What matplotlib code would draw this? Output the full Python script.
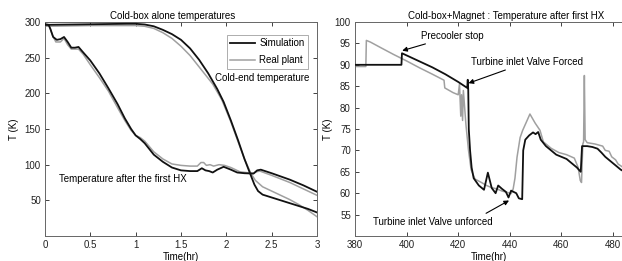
import matplotlib
matplotlib.use("Agg")
import matplotlib.pyplot as plt

plt.rcParams['font.family'] = ['Liberation Sans', 'DejaVu Sans']
plt.rcParams['font.size'] = 7

# ---------------- Left panel data ----------------
t_hx_sim = [0, 0.04, 0.06, 0.09, 0.13, 0.17, 0.21, 0.25, 0.29, 0.33, 0.37, 0.41, 0.5, 0.6, 0.7,
            0.8, 0.88, 0.95, 1.0, 1.05, 1.1, 1.15, 1.2, 1.3, 1.4, 1.5, 1.6, 1.68, 1.73, 1.77,
            1.81, 1.85, 1.9, 1.97, 2.05, 2.12, 2.2, 2.3, 2.34, 2.38, 2.5, 2.7, 2.85, 3.0]
T_hx_sim = [297, 296, 290, 279, 275, 276, 279, 272, 264, 264, 265, 259, 246, 228, 207,
            185, 165, 150, 141, 136, 130, 122, 114, 104, 96, 92, 91, 91, 95, 92,
            91, 89, 93, 97, 93, 89, 88, 87.5, 92, 93, 88, 79, 71, 62]

t_hx_real = [0, 0.05, 0.08, 0.12, 0.17, 0.21, 0.25, 0.29, 0.33, 0.37, 0.42, 0.5, 0.6, 0.7, 0.8,
             0.88, 0.95, 1.0, 1.05, 1.1, 1.2, 1.3, 1.4, 1.5, 1.6, 1.68, 1.72, 1.75, 1.78, 1.82,
             1.86, 1.92, 1.98, 2.05, 2.15, 2.25, 2.3, 2.33, 2.37, 2.5, 2.7, 2.85, 3.0]
T_hx_real = [295, 294, 282, 272, 272, 277, 268, 262, 262, 262, 255, 240, 222, 203, 180,
             162, 148, 141, 138, 133, 118, 108, 101, 99, 98, 98, 103, 103, 99, 100,
             98, 100, 99, 96, 90, 88.5, 88, 90, 91, 85, 75, 66, 57]

t_ce_sim = [0, 0.3, 0.6, 0.9, 1.0, 1.1, 1.2, 1.3, 1.4, 1.5, 1.6, 1.7, 1.8, 1.9, 1.97, 2.05,
            2.13, 2.2, 2.27, 2.31, 2.35, 2.4, 2.5, 2.6, 2.7, 2.8, 2.9, 3.0]
T_ce_sim = [296, 296.5, 297, 297.5, 297.5, 296.5, 294, 289, 283, 275, 263, 247, 228, 206, 188, 162,
            134, 108, 85, 72, 63, 58, 54, 50, 46, 42, 38, 33]

t_ce_real = [0, 0.5, 1.0, 1.1, 1.2, 1.3, 1.4, 1.5, 1.6, 1.7, 1.85, 1.95, 2.05, 2.13, 2.2,
             2.27, 2.32, 2.4, 2.5, 2.6, 2.7, 2.8, 2.9, 3.0]
T_ce_real = [294, 295, 295, 294, 291, 285, 277, 266, 253, 237, 213, 191, 160, 132, 108,
             88, 78, 69, 63, 57, 51, 44, 36, 27]

# ---------------- Right panel data ----------------
t_r_sim = [380, 398, 398.2, 405, 410, 415, 420, 423.5, 423.7, 423.9, 424.1, 424.6, 425.2, 426,
           428, 430, 431.5, 433, 434.5, 435.5, 437, 438.5, 439.5, 440.5, 442.5, 443.5, 444.8,
           445.2, 446, 447.5, 449, 450, 451, 452, 454, 456, 458, 460, 462, 464, 466, 467.5,
           468.0, 470, 472, 474, 475.5, 477, 479, 481, 483, 486, 490]
T_r_sim = [90, 90, 92.7, 90.8, 89.4, 87.8, 86, 84.6, 86.5, 84, 75, 70, 66, 63.5,
           61.8, 60.8, 64.8, 61.2, 60, 61.8, 61, 60.3, 59, 60.6, 60, 58.8, 58.6,
           70, 72.5, 73.5, 74.2, 73.8, 74.3, 72.5, 71, 70, 69, 68.5, 68, 67, 66, 65,
           71, 71, 70.8, 70.4, 69.5, 68.5, 67.5, 66.5, 65.5, 64.5, 63]

t_r_real = [380, 384.2, 384.4, 386, 390, 395, 400, 405, 410, 414.5, 414.8, 418, 420, 420.5,
            421, 421.3, 421.7, 422, 422.5, 423, 424, 425, 426.5, 429, 431, 433, 435, 437, 439,
            440.5, 441.3, 442, 442.8, 444, 445, 446.7, 447.8, 449.8, 451.7, 453, 456, 459, 462,
            465, 466.5, 467.3, 467.8, 468.3, 468.6, 468.9, 469.2, 470, 473, 476, 477, 478.5,
            479.5, 481, 482, 484, 488]
T_r_real = [89.6, 89.6, 95.7, 95.3, 94, 92.4, 90.9, 89.3, 87.8, 86.4, 84.6, 83.5, 83, 85.5,
            78, 83, 77, 84, 80, 76, 70, 65.5, 63.3, 62.5, 61.8, 61.3, 61, 60.5, 60.2,
            59.9, 61, 63.5, 68.4, 73, 74.7, 77, 78.5, 76.4, 74.7, 72, 70.5, 69.5, 69,
            68.2, 66, 63, 62.5, 71.5, 72, 87.5, 72.5, 71.8, 71.5, 71, 70, 69.8,
            68.5, 67.8, 66.8, 66, 65]

left_xticks = [0, 0.5, 1, 1.5, 2, 2.5, 3]
left_xticklabels = ['0', '0.5', '1', '1.5', '2', '2.5', '3']
left_yticks = [50, 100, 150, 200, 250, 300]
right_xticks = [380, 400, 420, 440, 460, 480]
right_yticks = [55, 60, 65, 70, 75, 80, 85, 90, 95, 100]

SIM = '#111111'
REAL = '#a0a0a0'
SPINE = '#666666'

W, H = 622, 261
fig = plt.figure(figsize=(W / 100, H / 100), dpi=100)

ax1 = fig.add_axes([45 / W, (H - 236) / H, (317 - 45) / W, (236 - 22) / H])
ax2 = fig.add_axes([355 / W, (H - 236) / H, (W - 355) / W, (236 - 22) / H])

for ax in (ax1, ax2):
    ax.tick_params(direction='in', top=True, right=True, length=3, width=0.6,
                   labelsize=7, pad=3, colors='#222222')
    for s in ax.spines.values():
        s.set_color(SPINE)
        s.set_linewidth(0.7)

# Left
ax1.plot(t_ce_real, T_ce_real, color=REAL, lw=1.1, label='Real plant', zorder=2)
ax1.plot(t_hx_real, T_hx_real, color=REAL, lw=1.1, zorder=2)
ax1.plot(t_ce_sim, T_ce_sim, color=SIM, lw=1.3, label='Simulation', zorder=3)
ax1.plot(t_hx_sim, T_hx_sim, color=SIM, lw=1.3, zorder=3)
ax1.set_xlim(0, 3)
ax1.set_ylim(0, 300)
ax1.set_xticks(left_xticks)
ax1.set_xticklabels(left_xticklabels)
ax1.set_yticks(left_yticks)
ax1.set_xlabel('Time(hr)', fontsize=7, labelpad=1)
ax1.set_ylabel('T (K)', fontsize=7)
ax1.yaxis.set_label_coords(-0.095, 0.5)
ax1.text(0.47, 1.03, 'Cold-box alone temperatures', transform=ax1.transAxes,
         ha='center', va='center', fontsize=7)
ax1.text(1.87, 222, 'Cold-end temperature', fontsize=7, ha='left', va='center')
ax1.text(0.155, 80, 'Temperature after the first HX', fontsize=7, ha='left', va='center')
h, l = ax1.get_legend_handles_labels()
leg = ax1.legend(h[::-1], l[::-1], loc='upper right', bbox_to_anchor=(0.967, 0.939),
                 fontsize=7, frameon=True, fancybox=False, handlelength=2.6,
                 borderpad=0.35, labelspacing=0.7, handletextpad=0.4, borderaxespad=0)
leg.get_frame().set_edgecolor('#888888')
leg.get_frame().set_linewidth(0.6)

# Right (cut at the image edge, as in the reference)
ax2.plot(t_r_real, T_r_real, color=REAL, lw=1.1, zorder=2)
ax2.plot(t_r_sim, T_r_sim, color=SIM, lw=1.3, zorder=3)
ax2.set_xlim(380, 380 + (W - 355) / 2.58)
ax2.set_ylim(50, 100)
ax2.spines['right'].set_visible(False)
ax2.tick_params(right=False)
ax2.set_xticks(right_xticks)
ax2.set_yticks(right_yticks)
ax2.set_xlabel('Time(hr)', fontsize=7, labelpad=1)
ax2.set_ylabel('T (K)', fontsize=7)
ax2.yaxis.set_label_coords(-0.081, 0.5)
ax2.text((506 - 355) / (W - 355), 1.03, 'Cold-box+Magnet : Temperature after first HX',
         transform=ax2.transAxes, ha='center', va='center', fontsize=7)

ap = dict(arrowstyle='-|>', color='black', lw=0.8, mutation_scale=7, shrinkA=0, shrinkB=0)
ax2.annotate('Precooler stop', xy=(398.3, 93.3), xytext=(405.5, 96.7),
             fontsize=7, ha='left', va='center', arrowprops=ap)
ax2.annotate('Turbine inlet Valve Forced', xy=(424.0, 85.7), xytext=(425, 90.6),
             fontsize=7, ha='left', va='center', arrowprops=ap)
ax2.annotate('', xy=(439.7, 58.3), xytext=(430.8, 55.3), arrowprops=ap)
ax2.text(387, 53.2, 'Turbine inlet Valve unforced', fontsize=7, ha='left', va='center')

fig.savefig('out.png', dpi=100)
